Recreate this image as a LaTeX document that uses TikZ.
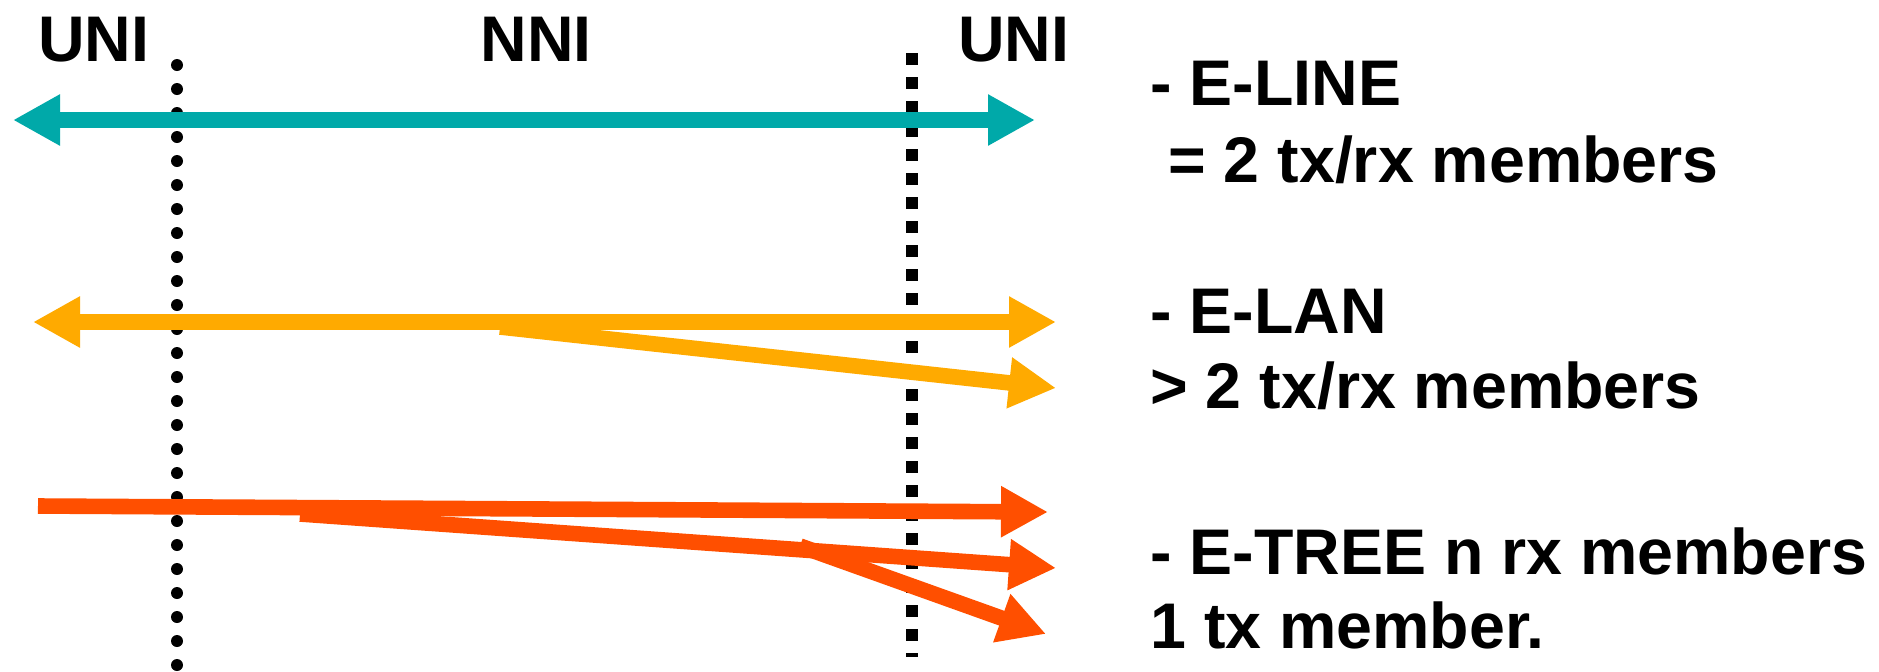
\documentclass[tikz,border=0pt]{standalone}
\usepackage{fontspec}
\setmainfont{Liberation Sans}
\usepackage{xcolor}
\usetikzlibrary{arrows.meta}
\definecolor{elinecol}{RGB}{0,169,169}
\definecolor{elancol}{RGB}{255,170,0}
\definecolor{etreecol}{RGB}{255,79,0}

\begin{document}
\begin{tikzpicture}[x=0.5pt, y=-0.5pt]
\tikzstyle{iface}=[inner sep=0pt, anchor=base west, font=\fontsize{32.25}{38}\selectfont\bfseries]
\tikzstyle{svc}=[iface]
\tikzstyle{border}=[line width=6pt, line cap=round, dash pattern=on 0pt off 12pt]
\tikzstyle{nniborder}=[line width=5.85pt, dash pattern=on 6.15pt off 5.85pt]
\tikzstyle{flow}=[line width=7.8pt, -{Triangle[length=23.5pt, width=24pt]}]
\tikzstyle{twoway}=[line width=7.8pt, {Triangle[length=23.5pt, width=24pt]}-{Triangle[length=23.5pt, width=24pt]}]
\useasboundingbox (0,0) rectangle (1879,671);

\coordinate (d1) at (177,65);
\coordinate (d2) at (177,690);
\coordinate (s1) at (912,53);
\coordinate (s2) at (912,657);

\coordinate (a1) at (13,120);
\coordinate (a2) at (1035,120);
\coordinate (b1) at (33,322);
\coordinate (b2) at (1056,322);
\coordinate (b3) at (500,327);
\coordinate (b4) at (1056,388);
\coordinate (c1) at (38,506);
\coordinate (c2) at (1048,512);
\coordinate (c3) at (300,514);
\coordinate (c4) at (1056,568);
\coordinate (c5) at (800,546);
\coordinate (c6) at (1046,634);

\node[iface] (uni1) at (38,61) {UNI};
\node[iface, anchor=base] (nni) at (536,61) {NNI};
\node[iface] (uni2) at (958,61) {UNI};

\node[svc] (eline) at (1150,105) {- E-LINE};
\node[svc] (elinetx) at (1150,182) {\ = 2 tx/rx members};
\node[svc] (elan) at (1150,333) {- E-LAN};
\node[svc] (elantx) at (1150,408) {> 2 tx/rx members};
\node[svc] (etree) at (1150,574) {- E-TREE n rx members};
\node[svc] (etreetx) at (1150,648) {1 tx member.};

\path
(d1) edge[border] (d2)
(s1) edge[nniborder] (s2);

\path
(a1) edge[twoway, elinecol] (a2)
(b1) edge[twoway, elancol] (b2)
(b3) edge[flow, elancol] (b4)
(c1) edge[flow, etreecol] (c2)
(c3) edge[flow, etreecol] (c4)
(c5) edge[flow, etreecol] (c6);

\end{tikzpicture}
\end{document}
